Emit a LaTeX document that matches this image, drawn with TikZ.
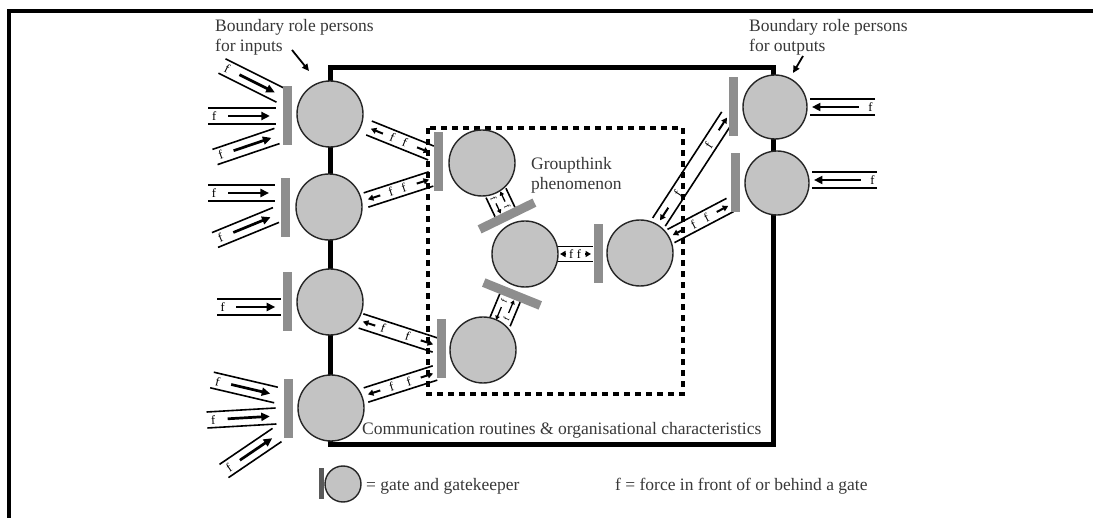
\documentclass[tikz,border=0pt]{standalone}
\usepackage{fontspec}
\setmainfont{Liberation Serif}
\usetikzlibrary{calc,arrows.meta}
\definecolor{txt}{HTML}{383838}
\definecolor{gatec}{HTML}{8E8E8E}
\definecolor{keepc}{HTML}{C3C3C3}
\tikzset{
 keeper/.style={circle, draw=black!85, line width=1.4pt, fill=keepc, minimum size=66pt, inner sep=0pt},
 gatebar/.style={rectangle, fill=gatec, minimum width=9pt, minimum height=59pt, inner sep=0pt},
 chanline/.style={line width=1.6pt, black},
 farrow/.style={line width=2.7pt, -{Triangle[length=8.5pt,width=8pt]}},
 sarrow/.style={line width=2pt, -{Triangle[length=5.5pt,width=6pt]}},
 tarrow/.style={line width=1.3pt, -{Triangle[length=4pt,width=4.5pt]}},
 flab/.style={font=\fontsize{12.5}{12.5}\selectfont, inner sep=0pt, text=black},
 fsmall/.style={font=\fontsize{9}{9}\selectfont, inner sep=0pt, text=black},
 lab/.style={font=\fontsize{17.5}{20}\selectfont, text=txt, inner sep=0pt, anchor=base west},
 ptr/.style={line width=1.8pt, -{Triangle[length=7pt,width=6.5pt]}},
}
\newcommand\inchan[5]{%
 \draw[chanline] ($(#1)!8pt!90:(#2)$) -- ($(#2)!8pt!-90:(#1)$);
 \draw[chanline] ($(#1)!8pt!-90:(#2)$) -- ($(#2)!8pt!90:(#1)$);
 \draw[farrow] ($(#1)!#4!(#2)$) -- ($(#1)!#5!(#2)$);
 \path (#1) -- node[flab, pos=#3, sloped] {f} (#2);
}
\newcommand\dchan[6]{%
 \draw[chanline] ($(#1)!#6!90:(#2)$) -- ($(#2)!#6!-90:(#1)$);
 \draw[chanline] ($(#1)!#6!-90:(#2)$) -- ($(#2)!#6!90:(#1)$);
 \draw[sarrow] ($(#1)!#5!(#2)$) -- ($(#1)!2pt!(#2)$);
 \draw[sarrow] ($(#2)!#5!(#1)$) -- ($(#2)!2pt!(#1)$);
 \path (#1) -- node[flab, pos=#3, sloped]{f} node[flab, pos=#4, sloped]{f} (#2);
}
\newcommand\twolane[3]{%
 \draw[chanline] ($(#1)!#3!90:(#2)$) -- ($(#2)!#3!-90:(#1)$);
 \draw[chanline] ($(#1)!#3!-90:(#2)$) -- ($(#2)!#3!90:(#1)$);
 \coordinate (tl1) at ($(#1)!4.5pt!90:(#2)$);
 \coordinate (tl2) at ($(#2)!4.5pt!-90:(#1)$);
 \coordinate (tr1) at ($(#1)!4.5pt!-90:(#2)$);
 \coordinate (tr2) at ($(#2)!4.5pt!90:(#1)$);
 \draw[tarrow] ($(tl1)!0.55!(tl2)$) -- ($(tl1)!0.02!(tl2)$);
 \path (tl1) -- node[fsmall, pos=0.8, sloped]{f} (tl2);
 \draw[tarrow] ($(tr1)!0.45!(tr2)$) -- ($(tr1)!0.98!(tr2)$);
 \path (tr1) -- node[fsmall, pos=0.2, sloped]{f} (tr2);
}
\begin{document}
\begin{tikzpicture}[x=1pt,y=-1pt]
\useasboundingbox (0,0) rectangle (1093,518);
% outer frame
\draw[line width=4pt] (9,518) -- (9,11) -- (1093,11);
% system boundary
\draw[line width=5pt] (330,68) rectangle (773,445);
% groupthink region
\draw[line width=3.3pt, dash pattern=on 6pt off 5pt] (428,128) rectangle (683,394);

% texts
\node[lab] (t1) at (215,32) {Boundary role persons};
\node[lab] (t2) at (215,52) {for inputs};
\node[lab] (t3) at (749,32) {Boundary role persons};
\node[lab] (t4) at (749,52) {for outputs};
\node[lab] (t5) at (531,170) {Groupthink};
\node[lab] (t6) at (531,190) {phenomenon};
\node[lab] (t7) at (362,435) {Communication routines \& organisational characteristics};
\coordinate (p1s) at (292,50); \coordinate (p1e) at (309,71);
\coordinate (p2s) at (803,56); \coordinate (p2e) at (793,73);
\draw[ptr] (p1s) -- (p1e);
\draw[ptr] (p2s) -- (p2e);

% input channels
\coordinate (i1as) at (222,66);  \coordinate (i1ae) at (280,95);
\coordinate (i1bs) at (208,116); \coordinate (i1be) at (276,116);
\coordinate (i1cs) at (215,157); \coordinate (i1ce) at (277,136);
\coordinate (i2as) at (208,193); \coordinate (i2ae) at (275,193);
\coordinate (i2bs) at (215,240); \coordinate (i2be) at (276,215);
\coordinate (i3as) at (217,307); \coordinate (i3ae) at (281,307);
\coordinate (i4as) at (212,380); \coordinate (i4ae) at (276,395);
\coordinate (i4bs) at (207,420); \coordinate (i4be) at (276,416);
\coordinate (i4cs) at (224,471); \coordinate (i4ce) at (277,435);
\inchan{i1as}{i1ae}{0.09}{0.3}{0.91}
\inchan{i1bs}{i1be}{0.09}{0.3}{0.91}
\inchan{i1cs}{i1ce}{0.09}{0.3}{0.91}
\inchan{i2as}{i2ae}{0.09}{0.3}{0.91}
\inchan{i2bs}{i2be}{0.09}{0.3}{0.91}
\inchan{i3as}{i3ae}{0.09}{0.3}{0.91}
\inchan{i4as}{i4ae}{0.09}{0.3}{0.91}
\inchan{i4bs}{i4be}{0.09}{0.3}{0.91}
\inchan{i4cs}{i4ce}{0.09}{0.3}{0.91}
% output side channels
\coordinate (o9s) at (875,107);  \coordinate (o9e) at (810,107);
\coordinate (o10s) at (877,180); \coordinate (o10e) at (812,180);
\inchan{o9s}{o9e}{0.07}{0.25}{0.97}
\inchan{o10s}{o10e}{0.07}{0.25}{0.97}

% internal channels
\coordinate (d1s) at (369,128); \coordinate (d1e) at (431,153);
\coordinate (d2s) at (366,200); \coordinate (d2e) at (431,179);
\coordinate (d3s) at (361,321); \coordinate (d3e) at (435,345);
\coordinate (d4s) at (366,395); \coordinate (d4e) at (435,373);
\coordinate (d5s) at (558,254); \coordinate (d5e) at (593,254);
\coordinate (d6s) at (659,222); \coordinate (d6e) at (728,116);
\coordinate (d7s) at (671,236); \coordinate (d7e) at (730,205);
\dchan{d1s}{d1e}{0.38}{0.58}{15pt}{7.5pt}
\dchan{d2s}{d2e}{0.38}{0.58}{15pt}{7.5pt}
\dchan{d3s}{d3e}{0.3}{0.63}{15pt}{7.5pt}
\dchan{d4s}{d4e}{0.37}{0.62}{15pt}{7.5pt}
\dchan{d5s}{d5e}{0.38}{0.6}{8pt}{7.5pt}
\dchan{d6s}{d6e}{0.27}{0.72}{17pt}{7.5pt}
\dchan{d7s}{d7e}{0.38}{0.6}{15pt}{7.5pt}
\coordinate (s1s) at (496,193); \coordinate (s1e) at (505,212);
\coordinate (s2s) at (500,322); \coordinate (s2e) at (510,298);
\twolane{s1s}{s1e}{11pt}
\twolane{s2s}{s2e}{11pt}

% gates
\node[gatebar] (G1) at (287,116) {};
\node[gatebar] (G2) at (285,208) {};
\node[gatebar] (G3) at (287,302) {};
\node[gatebar] (G4) at (288,409) {};
\node[gatebar] (G5) at (438,162) {};
\node[gatebar] (G7) at (441,349) {};
\node[gatebar] (G8) at (598,254) {};
\node[gatebar] (G9) at (733,107) {};
\node[gatebar] (G10) at (735,183) {};
\node[gatebar, minimum height=61pt, rotate=-64] (T1) at (507,216) {};
\node[gatebar, minimum height=61pt, rotate=68] (T2) at (512,294) {};

% gatekeepers
\node[keeper] (L1) at (330,114) {};
\node[keeper] (L2) at (329,207) {};
\node[keeper] (L3) at (330,302) {};
\node[keeper] (L4) at (331,408) {};
\node[keeper] (I5) at (482,163) {};
\node[keeper] (I6) at (525,254) {};
\node[keeper] (I7) at (483,350) {};
\node[keeper] (I8) at (640,253) {};
\node[keeper, minimum size=64pt] (R9) at (775,107) {};
\node[keeper, minimum size=64pt] (R10) at (777,183) {};

% legend
\node[gatebar, minimum width=5pt, minimum height=31pt, fill=black!65] (LG) at (321.5,484) {};
\node[keeper, minimum size=36pt] (LK) at (343,484) {};
\node[lab] (t8) at (366,490) {= gate and gatekeeper};
\node[lab] (t9) at (615,490) {f = force in front of or behind a gate};
\end{tikzpicture}
\end{document}
